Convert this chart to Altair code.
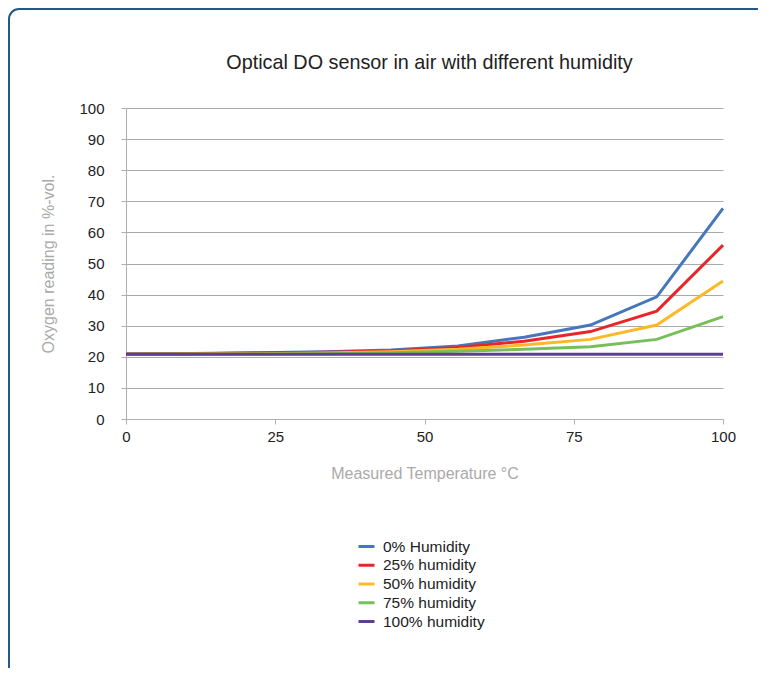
import altair as alt
import pandas as pd

temperature = [0, 11.1, 22.2, 33.3, 44.4, 55.6, 66.7, 77.8, 88.9, 100]
series_names = ["0% Humidity", "25% humidity", "50% humidity", "75% humidity", "100% humidity"]
hum_0 = [21.0, 21.1, 21.3, 21.6, 22.2, 23.5, 26.3, 30.2, 39.3, 67.7]
hum_25 = [20.9, 21.0, 21.2, 21.5, 21.9, 23.0, 25.0, 28.1, 34.7, 55.9]
hum_50 = [20.8, 20.9, 21.0, 21.2, 21.6, 22.4, 23.8, 25.6, 30.2, 44.4]
hum_75 = [20.8, 20.8, 20.9, 21.0, 21.3, 21.8, 22.4, 23.2, 25.6, 32.9]
hum_100 = [20.8, 20.8, 20.8, 20.8, 20.8, 20.8, 20.8, 20.8, 20.8, 20.8]
colors = ["#4677BB", "#E8262A", "#FDB827", "#77BF5A", "#5B3F94"]
title_text = "Optical DO sensor in air with different humidity"

rows = []
for name, vals in zip(series_names, [hum_0, hum_25, hum_50, hum_75, hum_100]):
    for t, v in zip(temperature, vals):
        rows.append({"Temperature": t, "Oxygen": v, "Series": name})
df = pd.DataFrame(rows)

one = pd.DataFrame({"k": [0]})

frame = alt.Chart(one).mark_rect(
    filled=False, stroke="#24578a", strokeWidth=2, cornerRadius=10
).encode(
    x=alt.value(-117), x2=alt.value(700), y=alt.value(-99), y2=alt.value(600)
)

title = alt.Chart(one).mark_text(
    text=title_text, fontSize=19.8, font="Liberation Sans", color="#222",
    align="center", baseline="middle"
).encode(x=alt.value(303.5), y=alt.value(-45))

lines = alt.Chart(df).mark_line(strokeWidth=3).encode(
    x=alt.X("Temperature:Q", scale=alt.Scale(domain=[0, 100], nice=False),
            axis=alt.Axis(values=[0, 25, 50, 75, 100], title="Measured Temperature °C",
                          grid=False, tickSize=5, labelPadding=5, titlePadding=21,
                          labelFlush=False)),
    y=alt.Y("Oxygen:Q", scale=alt.Scale(domain=[0, 100], nice=False),
            axis=alt.Axis(values=list(range(0, 101, 10)), title="Oxygen reading in %-vol.",
                          grid=True, tickSize=5, labelPadding=17, titlePadding=22)),
    color=alt.Color("Series:N", sort=series_names,
                    scale=alt.Scale(domain=series_names, range=colors),
                    legend=alt.Legend(title=None, orient="none", legendX=231, legendY=429,
                                      symbolType="stroke", symbolSize=256, symbolStrokeWidth=3,
                                      labelFontSize=15.5, labelColor="#222", labelOffset=7,
                                      rowPadding=0.75, padding=0, labelFont="Liberation Sans")),
)

chart = alt.layer(frame, title, lines).properties(
    width=597, height=311,
    autosize=alt.AutoSizeParams(type="none"),
    padding={"left": 118, "top": 100, "right": 35, "bottom": 249},
).configure_view(stroke=None).configure_axis(
    labelFont="Liberation Sans", titleFont="Liberation Sans",
    labelFontSize=15, titleFontSize=16, labelColor="#222", titleColor="#aaaaaa",
    titleFontWeight="normal", domainColor="#b0b0b0", tickColor="#b0b0b0",
    gridColor="#aaaaaa", gridWidth=1,
)

chart.save("out.html", embed_options={"renderer": "svg", "actions": False})
